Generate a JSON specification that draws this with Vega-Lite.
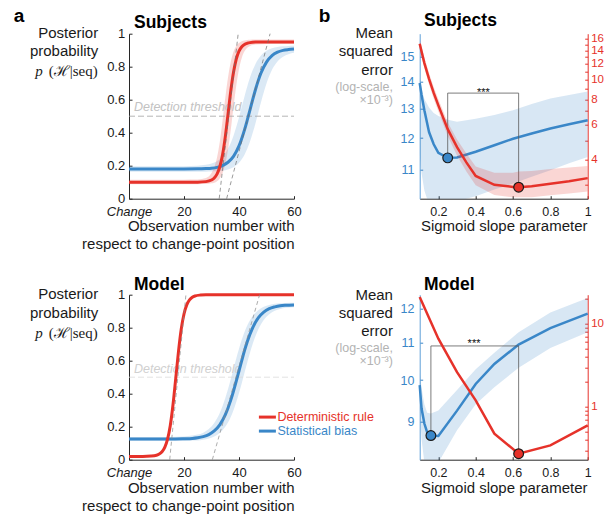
{
  "$schema": "https://vega.github.io/schema/vega-lite/v6.json",
  "padding": {"left": 13, "top": 6.7, "right": 0, "bottom": 0},
  "columns": 2,
  "bounds": "flush",
  "spacing": {"row": 96, "column": 125.7},
  "config": {
    "font": "Liberation Sans",
    "view": {"stroke": null},
    "axis": {"grid": false, "labelFont": "Liberation Sans", "titleFont": "Liberation Sans", "labelFontSize": 13, "titleFontSize": 15, "titleFontWeight": "normal", "labelColor": "#1a1a1a", "titleColor": "#1a1a1a", "domainColor": "#262626", "tickColor": "#262626", "tickSize": -3, "domainWidth": 1, "tickWidth": 1, "labelFlush": false, "labelOverlap": false, "tickCount": 30},
    "text": {"font": "Liberation Sans"}
  },
  "datasets": {
    "tl_red": [
      {"x":0,"y":0.1,"lo":0.088,"hi":0.115},{"x":10,"y":0.1,"lo":0.088,"hi":0.115},{"x":20,"y":0.1,"lo":0.088,"hi":0.115},
      {"x":25,"y":0.1004,"lo":0.088,"hi":0.116},{"x":28,"y":0.1034,"lo":0.089,"hi":0.125},{"x":30,"y":0.113,"lo":0.093,"hi":0.155},
      {"x":31,"y":0.126,"lo":0.097,"hi":0.19},{"x":32,"y":0.149,"lo":0.106,"hi":0.25},{"x":33,"y":0.192,"lo":0.123,"hi":0.344},
      {"x":34,"y":0.264,"lo":0.154,"hi":0.471},{"x":35,"y":0.373,"lo":0.209,"hi":0.61},{"x":36,"y":0.511,"lo":0.296,"hi":0.735},
      {"x":37,"y":0.651,"lo":0.416,"hi":0.829},{"x":38,"y":0.766,"lo":0.555,"hi":0.89},{"x":39,"y":0.846,"lo":0.685,"hi":0.925},
      {"x":40,"y":0.894,"lo":0.786,"hi":0.944},{"x":41,"y":0.921,"lo":0.853,"hi":0.954},{"x":42,"y":0.935,"lo":0.893,"hi":0.959},
      {"x":43,"y":0.942,"lo":0.915,"hi":0.962},{"x":44,"y":0.946,"lo":0.926,"hi":0.963},{"x":46,"y":0.949,"lo":0.935,"hi":0.965},
      {"x":50,"y":0.95,"lo":0.938,"hi":0.965},{"x":55,"y":0.95,"lo":0.938,"hi":0.965},{"x":60,"y":0.95,"lo":0.938,"hi":0.965}
    ],
    "tl_blue": [
      {"x":0,"y":0.18,"lo":0.163,"hi":0.197},{"x":10,"y":0.18,"lo":0.163,"hi":0.197},{"x":20,"y":0.18,"lo":0.163,"hi":0.197},
      {"x":25,"y":0.181,"lo":0.163,"hi":0.2},{"x":28,"y":0.183,"lo":0.164,"hi":0.205},{"x":30,"y":0.185,"lo":0.165,"hi":0.213},
      {"x":32,"y":0.19,"lo":0.166,"hi":0.227},{"x":34,"y":0.201,"lo":0.169,"hi":0.254},{"x":36,"y":0.221,"lo":0.177,"hi":0.303},
      {"x":38,"y":0.257,"lo":0.191,"hi":0.382},{"x":40,"y":0.32,"lo":0.218,"hi":0.494},{"x":42,"y":0.417,"lo":0.267,"hi":0.62},
      {"x":43,"y":0.476,"lo":0.302,"hi":0.68},{"x":44,"y":0.538,"lo":0.346,"hi":0.734},{"x":45,"y":0.602,"lo":0.399,"hi":0.78},
      {"x":46,"y":0.662,"lo":0.458,"hi":0.817},{"x":48,"y":0.762,"lo":0.584,"hi":0.868},{"x":50,"y":0.828,"lo":0.698,"hi":0.897},
      {"x":52,"y":0.867,"lo":0.781,"hi":0.912},{"x":54,"y":0.888,"lo":0.832,"hi":0.92},{"x":56,"y":0.899,"lo":0.861,"hi":0.924},
      {"x":58,"y":0.904,"lo":0.876,"hi":0.926},{"x":60,"y":0.907,"lo":0.884,"hi":0.927}
    ],
    "tl_tan": [
      {"s":"red","x":32.8,"y":0},{"s":"red","x":39.7,"y":1},
      {"s":"blue","x":35.5,"y":0},{"s":"blue","x":51.3,"y":1}
    ],
    "bl_red": [
      {"x":0,"y":0.02},{"x":5,"y":0.02},{"x":8,"y":0.022},{"x":10,"y":0.027},{"x":11,"y":0.034},{"x":12,"y":0.048},
      {"x":13,"y":0.075},{"x":14,"y":0.123},{"x":15,"y":0.206},{"x":16,"y":0.333},{"x":17,"y":0.493},{"x":18,"y":0.657},
      {"x":19,"y":0.792},{"x":20,"y":0.883},{"x":21,"y":0.938},{"x":22,"y":0.968},{"x":23,"y":0.984},{"x":24,"y":0.992},
      {"x":26,"y":0.998},{"x":28,"y":1},{"x":40,"y":1},{"x":60,"y":1}
    ],
    "bl_blue": [
      {"x":0,"y":0.125,"lo":0.113,"hi":0.137},{"x":10,"y":0.125,"lo":0.113,"hi":0.137},{"x":15,"y":0.125,"lo":0.113,"hi":0.138},
      {"x":20,"y":0.127,"lo":0.114,"hi":0.14},{"x":23,"y":0.129,"lo":0.116,"hi":0.146},{"x":25,"y":0.133,"lo":0.117,"hi":0.152},
      {"x":27,"y":0.14,"lo":0.121,"hi":0.164},{"x":29,"y":0.152,"lo":0.128,"hi":0.186},{"x":31,"y":0.174,"lo":0.14,"hi":0.223},
      {"x":33,"y":0.211,"lo":0.162,"hi":0.283},{"x":35,"y":0.271,"lo":0.199,"hi":0.373},{"x":37,"y":0.361,"lo":0.259,"hi":0.488},
      {"x":38,"y":0.416,"lo":0.3,"hi":0.551},{"x":39,"y":0.476,"lo":0.349,"hi":0.613},{"x":40,"y":0.539,"lo":0.404,"hi":0.673},
      {"x":41,"y":0.601,"lo":0.464,"hi":0.727},{"x":42,"y":0.661,"lo":0.527,"hi":0.774},{"x":43,"y":0.715,"lo":0.589,"hi":0.813},
      {"x":45,"y":0.801,"lo":0.703,"hi":0.871},{"x":47,"y":0.859,"lo":0.789,"hi":0.906},{"x":49,"y":0.894,"lo":0.847,"hi":0.927},
      {"x":51,"y":0.915,"lo":0.882,"hi":0.938},{"x":53,"y":0.926,"lo":0.903,"hi":0.945},{"x":55,"y":0.933,"lo":0.914,"hi":0.948},
      {"x":57,"y":0.936,"lo":0.921,"hi":0.95},{"x":60,"y":0.938,"lo":0.924,"hi":0.951}
    ],
    "bl_tan": [
      {"s":"red","x":14.8,"y":0},{"s":"red","x":20.7,"y":1},
      {"s":"blue","x":30.3,"y":0},{"s":"blue","x":47.5,"y":1}
    ],
    "tr_blue": [
      {"x":0.1,"y":13.95,"lo":11.5,"hi":14.15},{"x":0.11,"y":13.5,"lo":10.9,"hi":13.75},{"x":0.125,"y":12.95,"lo":10.4,"hi":13.35},
      {"x":0.15,"y":12.2,"lo":10.0,"hi":13.05},{"x":0.175,"y":11.8,"lo":9.8,"hi":12.85},{"x":0.2,"y":11.53,"lo":9.7,"hi":12.75},
      {"x":0.25,"y":11.37,"lo":9.7,"hi":12.62},{"x":0.3,"y":11.38,"lo":10.1,"hi":12.55},{"x":0.4,"y":11.56,"lo":10.24,"hi":12.65},
      {"x":0.5,"y":11.77,"lo":10.43,"hi":12.78},{"x":0.6,"y":11.98,"lo":10.6,"hi":12.95},{"x":0.7,"y":12.15,"lo":10.8,"hi":13.17},
      {"x":0.8,"y":12.32,"lo":10.99,"hi":13.37},{"x":0.9,"y":12.46,"lo":11.2,"hi":13.5},{"x":1.0,"y":12.6,"lo":11.4,"hi":13.63}
    ],
    "tr_red": [
      {"x":0.1,"y":15.1,"lo":14.3,"hi":16.0},{"x":0.125,"y":12.1,"lo":11.4,"hi":12.9},{"x":0.15,"y":10.1,"lo":9.5,"hi":10.8},
      {"x":0.175,"y":8.6,"lo":8.05,"hi":9.2},{"x":0.2,"y":7.45,"lo":6.95,"hi":8.0},{"x":0.25,"y":5.68,"lo":5.25,"hi":6.15},
      {"x":0.3,"y":4.62,"lo":4.2,"hi":5.05},{"x":0.35,"y":3.88,"lo":3.5,"hi":4.3},{"x":0.4,"y":3.32,"lo":2.99,"hi":3.7},
      {"x":0.5,"y":3.0,"lo":2.67,"hi":3.45},{"x":0.6,"y":2.93,"lo":2.6,"hi":3.45},{"x":0.63,"y":2.92,"lo":2.6,"hi":3.5},
      {"x":0.7,"y":2.95,"lo":2.6,"hi":3.52},{"x":0.8,"y":3.04,"lo":2.66,"hi":3.6},{"x":0.9,"y":3.13,"lo":2.72,"hi":3.66},
      {"x":1.0,"y":3.24,"lo":2.78,"hi":3.72}
    ],
    "tr_bracket": [
      {"o":1,"x":0.25,"y":11.37},{"o":2,"x":0.25,"y":13.57},{"o":3,"x":0.63,"y":13.57},{"o":4,"x":0.63,"y":10.51}
    ],
    "tr_opt_blue": [{"x":0.25,"y":11.37}],
    "tr_opt_red": [{"x":0.63,"y":2.92}],
    "br_blue": [
      {"x":0.1,"y":9.87,"lo":9.3,"hi":10.2},{"x":0.11,"y":9.3,"lo":8.6,"hi":9.8},{"x":0.125,"y":8.95,"lo":8.1,"hi":9.4},
      {"x":0.14,"y":8.75,"lo":7.9,"hi":9.2},{"x":0.16,"y":8.68,"lo":7.9,"hi":9.18},{"x":0.2,"y":8.67,"lo":8.1,"hi":9.25},
      {"x":0.3,"y":9.25,"lo":8.8,"hi":9.75},{"x":0.4,"y":9.9,"lo":9.4,"hi":10.28},{"x":0.5,"y":10.42,"lo":9.82,"hi":10.72},
      {"x":0.63,"y":10.95,"lo":10.32,"hi":11.3},{"x":0.8,"y":11.42,"lo":10.85,"hi":11.88},{"x":1.0,"y":11.85,"lo":11.3,"hi":12.33}
    ],
    "br_red": [
      {"x":0.1,"y":20.9},{"x":0.2,"y":6.6},{"x":0.3,"y":2.62},{"x":0.4,"y":1.2},{"x":0.5,"y":0.479},
      {"x":0.63,"y":0.275},{"x":0.8,"y":0.346},{"x":1.0,"y":0.6}
    ],
    "br_bracket": [
      {"o":1,"x":0.16,"y":8.68},{"o":2,"x":0.16,"y":10.91},{"o":3,"x":0.63,"y":10.91},{"o":4,"x":0.63,"y":8.286}
    ],
    "br_opt_blue": [{"x":0.16,"y":8.68}],
    "br_opt_red": [{"x":0.63,"y":0.275}]
  },
  "concat": [
    {
      "width": 165, "height": 165,
      "layer": [
        {"data": {"name": "tl_blue"}, "mark": {"type": "area", "fill": "#3a87c8", "fillOpacity": 0.18, "interpolate": "monotone", "clip": true},
         "encoding": {
           "x": {"field": "x", "type": "quantitative", "scale": {"domain": [0, 60], "nice": false, "zero": false},
             "axis": {"values": [0, 20, 40, 60], "tickCount": 30, "labelExpr": "datum.value == 0 ? 'Change' : datum.label", "labelOverlap": false,
               "labelFontStyle": {"condition": {"test": "datum.value == 0", "value": "italic"}, "value": "normal"},
               "labelPadding": 9.6, "title": ["Observation number with", "respect to change-point position"], "titleFontWeight": "normal",
               "titleX": 165, "titleY": 31.7, "titleAlign": "right", "titleBaseline": "alphabetic", "titleLineHeight": 18.3}},
           "y": {"field": "lo", "type": "quantitative", "scale": {"domain": [0, 1], "nice": false},
             "axis": {"values": [0, 0.2, 0.4, 0.6, 0.8, 1], "tickCount": 30, "labelExpr": "format(datum.value, '~g')", "labelOverlap": false, "labelBound": false, "labelPadding": 7.3, "title": ["Posterior", "probability"], "titleFontWeight": "normal",
               "titleAngle": 0, "titleAlign": "right", "titleBaseline": "alphabetic", "titleX": -31.3, "titleY": 4, "titleLineHeight": 17.7}},
           "y2": {"field": "hi"}}},
        {"data": {"name": "tl_red"}, "mark": {"type": "area", "fill": "#e6322a", "fillOpacity": 0.2, "interpolate": "monotone", "clip": true},
         "encoding": {"x": {"field": "x", "type": "quantitative"}, "y": {"field": "lo", "type": "quantitative"}, "y2": {"field": "hi"}}},
        {"data": {"values": [{}]}, "mark": {"type": "rule", "stroke": "#a3a3a3", "strokeWidth": 0.8, "strokeDash": [6, 3]},
         "encoding": {"x": {"datum": 0}, "x2": {"datum": 60}, "y": {"datum": 0.5}}},
        {"data": {"values": [{}]}, "mark": {"type": "text", "text": "Detection threshold", "fontSize": 12.5, "fontStyle": "italic", "fill": "#c2c2c2", "align": "left", "baseline": "alphabetic"},
         "encoding": {"x": {"datum": 1.8}, "y": {"datum": 0.53}}},
        {"data": {"name": "tl_blue"}, "mark": {"type": "line", "stroke": "#3a87c8", "strokeWidth": 3, "interpolate": "monotone"},
         "encoding": {"x": {"field": "x", "type": "quantitative"}, "y": {"field": "y", "type": "quantitative"}}},
        {"data": {"name": "tl_red"}, "mark": {"type": "line", "stroke": "#e6322a", "strokeWidth": 3, "interpolate": "monotone"},
         "encoding": {"x": {"field": "x", "type": "quantitative"}, "y": {"field": "y", "type": "quantitative"}}},
        {"data": {"name": "tl_tan"}, "mark": {"type": "line", "stroke": "#6e6e6e", "strokeWidth": 0.7, "strokeDash": [4, 3]},
         "encoding": {"x": {"field": "x", "type": "quantitative"}, "y": {"field": "y", "type": "quantitative"}, "detail": {"field": "s", "type": "nominal"}}},
        {"data": {"values": [{}]}, "mark": {"type": "text", "text": "a", "fontSize": 19, "fontWeight": "bold", "fill": "#000", "align": "left", "baseline": "alphabetic"},
         "encoding": {"x": {"datum": -41.9}, "y": {"datum": 1.07}}},
        {"data": {"values": [{}]}, "mark": {"type": "text", "text": "Subjects", "fontSize": 17.5, "fontWeight": "bold", "fill": "#000", "align": "left", "baseline": "alphabetic"},
         "encoding": {"x": {"datum": 1.82}, "y": {"datum": 1.036}}},
        {"data": {"values": [{}]}, "mark": {"type": "text", "text": "p", "font": "Liberation Serif", "fontSize": 15, "fontStyle": "italic", "fill": "#1a1a1a", "align": "right", "baseline": "alphabetic"},
         "encoding": {"x": {"datum": -31.4}, "y": {"datum": 0.741}}},
        {"data": {"values": [{}]}, "mark": {"type": "text", "text": "(ℋ|seq)", "font": "Liberation Serif", "fontSize": 15, "fill": "#1a1a1a", "align": "right", "baseline": "alphabetic"},
         "encoding": {"x": {"datum": -11.38}, "y": {"datum": 0.741}}}
      ]
    },
    {
      "width": 168, "height": 165,
      "layer": [
        {"layer": [
          {"data": {"name": "tr_blue"}, "mark": {"type": "area", "fill": "#3a87c8", "fillOpacity": 0.2, "clip": true},
           "encoding": {
             "x": {"field": "x", "type": "quantitative", "scale": {"domain": [0.1, 1], "nice": false, "zero": false},
               "axis": {"values": [0.2, 0.4, 0.6, 0.8, 1], "tickCount": 30, "format": "~g", "labelOverlap": false, "labelFontSize": 12.5, "labelPadding": 9.6, "title": "Sigmoid slope parameter", "titleFontWeight": "normal",
                 "titleX": 84, "titleY": 31.7, "titleAlign": "center", "titleBaseline": "alphabetic"}},
             "y": {"field": "lo", "type": "quantitative", "scale": {"type": "log", "domain": [10.17, 15.96], "nice": false},
               "axis": {"orient": "left", "values": [11, 12, 13, 14, 15], "tickCount": 30, "labelExpr": "'' + datum.value", "labelOverlap": false, "labelFontSize": 12.5, "labelColor": "#3a87c8", "domainColor": "#5d9fd8", "tickColor": "#3a87c8",
                 "labelPadding": 8.7, "title": ["Mean", "squared", "error"], "titleFontWeight": "normal", "titleAngle": 0, "titleAlign": "right", "titleBaseline": "alphabetic",
                 "titleX": -27.3, "titleY": 4, "titleLineHeight": 18.3}},
             "y2": {"field": "hi"}}},
          {"data": {"name": "tr_blue"}, "mark": {"type": "line", "stroke": "#3a87c8", "strokeWidth": 2.5},
           "encoding": {"x": {"field": "x", "type": "quantitative"}, "y": {"field": "y", "type": "quantitative"}}},
          {"data": {"name": "tr_bracket"}, "mark": {"type": "line", "stroke": "#5a5a5a", "strokeWidth": 0.8},
           "encoding": {"x": {"field": "x", "type": "quantitative"}, "y": {"field": "y", "type": "quantitative"}, "order": {"field": "o"}}},
          {"data": {"values": [{}]}, "mark": {"type": "text", "text": "***", "fontSize": 11, "fill": "#111", "align": "center", "baseline": "alphabetic"},
           "encoding": {"x": {"datum": 0.441}, "y": {"datum": 13.46}}},
          {"data": {"name": "tr_opt_blue"}, "mark": {"type": "point", "filled": true, "fill": "#3a87c8", "stroke": "#1a1a1a", "strokeWidth": 1.2, "size": 95, "opacity": 1},
           "encoding": {"x": {"field": "x", "type": "quantitative"}, "y": {"field": "y", "type": "quantitative"}}},
          {"data": {"values": [{}]}, "mark": {"type": "text", "text": "b", "fontSize": 19, "fontWeight": "bold", "fill": "#000", "align": "left", "baseline": "alphabetic"},
           "encoding": {"x": {"datum": -0.441}, "y": {"datum": 16.47}}},
          {"data": {"values": [{}]}, "mark": {"type": "text", "text": "Subjects", "fontSize": 17.5, "fontWeight": "bold", "fill": "#000", "align": "left", "baseline": "alphabetic"},
           "encoding": {"x": {"datum": 0.123}, "y": {"datum": 16.28}}}
        ]},
        {"layer": [
          {"data": {"name": "tr_red"}, "mark": {"type": "area", "fill": "#e6322a", "fillOpacity": 0.2, "clip": true},
           "encoding": {
             "x": {"field": "x", "type": "quantitative"},
             "y": {"field": "lo", "type": "quantitative", "scale": {"type": "log", "domain": [2.56, 16.94], "nice": false},
               "axis": {"orient": "right", "values": [3, 4, 5, 6, 7, 8, 9, 10, 11, 12, 13, 14, 15, 16], "tickCount": 30, "labelOverlap": false,
                 "labelExpr": "datum.value >= 4 && datum.value % 2 == 0 ? '' + datum.value : ''", "labelFontSize": 11.5,
                 "labelColor": "#e6322a", "domainColor": "#e6322a", "tickColor": "#e6322a", "labelPadding": 6,
                 "title": ["(log-scale,", "×10⁻³)"], "titleFontWeight": "normal", "titleAngle": 0, "titleAlign": "right", "titleBaseline": "alphabetic",
                 "titleX": -195.3, "titleY": 56.7, "titleLineHeight": 12.7, "titleFontSize": 12.5, "titleColor": "#b3b3b3"}},
             "y2": {"field": "hi"}}},
          {"data": {"name": "tr_red"}, "mark": {"type": "line", "stroke": "#e6322a", "strokeWidth": 2.5},
           "encoding": {"x": {"field": "x", "type": "quantitative"}, "y": {"field": "y", "type": "quantitative"}}},
          {"data": {"name": "tr_opt_red"}, "mark": {"type": "point", "filled": true, "fill": "#e6322a", "stroke": "#1a1a1a", "strokeWidth": 1.2, "size": 95, "opacity": 1},
           "encoding": {"x": {"field": "x", "type": "quantitative"}, "y": {"field": "y", "type": "quantitative"}}}
        ]}
      ],
      "resolve": {"scale": {"y": "independent"}, "axis": {"y": "independent"}}
    },
    {
      "width": 165, "height": 165,
      "layer": [
        {"data": {"name": "bl_blue"}, "mark": {"type": "area", "fill": "#3a87c8", "fillOpacity": 0.18, "interpolate": "monotone", "clip": true},
         "encoding": {
           "x": {"field": "x", "type": "quantitative", "scale": {"domain": [0, 60], "nice": false, "zero": false},
             "axis": {"values": [0, 20, 40, 60], "tickCount": 30, "labelExpr": "datum.value == 0 ? 'Change' : datum.label", "labelOverlap": false,
               "labelFontStyle": {"condition": {"test": "datum.value == 0", "value": "italic"}, "value": "normal"},
               "labelPadding": 9.6, "title": ["Observation number with", "respect to change-point position"], "titleFontWeight": "normal",
               "titleX": 165, "titleY": 32.4, "titleAlign": "right", "titleBaseline": "alphabetic", "titleLineHeight": 18.3}},
           "y": {"field": "lo", "type": "quantitative", "scale": {"domain": [0, 1], "nice": false},
             "axis": {"values": [0, 0.2, 0.4, 0.6, 0.8, 1], "tickCount": 30, "labelExpr": "format(datum.value, '~g')", "labelOverlap": false, "labelBound": false, "labelPadding": 7.3, "title": ["Posterior", "probability"], "titleFontWeight": "normal",
               "titleAngle": 0, "titleAlign": "right", "titleBaseline": "alphabetic", "titleX": -31.3, "titleY": 4, "titleLineHeight": 18.5}},
           "y2": {"field": "hi"}}},
        {"data": {"values": [{}]}, "mark": {"type": "rule", "stroke": "#dcdcdc", "strokeWidth": 0.8, "strokeDash": [6, 3]},
         "encoding": {"x": {"datum": 0}, "x2": {"datum": 60}, "y": {"datum": 0.5}}},
        {"data": {"values": [{}]}, "mark": {"type": "text", "text": "Detection threshold", "fontSize": 12.5, "fontStyle": "italic", "fill": "#d0d0d0", "align": "left", "baseline": "alphabetic"},
         "encoding": {"x": {"datum": 1.8}, "y": {"datum": 0.527}}},
        {"data": {"name": "bl_blue"}, "mark": {"type": "line", "strokeWidth": 3, "interpolate": "monotone"},
         "encoding": {"x": {"field": "x", "type": "quantitative"}, "y": {"field": "y", "type": "quantitative"},
           "stroke": {"datum": "Statistical bias", "scale": {"range": ["#3a87c8"]},
             "legend": {"orient": "none", "legendX": 128.4, "legendY": 387.4, "title": null, "symbolType": "stroke", "symbolSize": 289, "symbolStrokeWidth": 3,
               "labelFontSize": 12.5, "labelFont": "Liberation Sans", "labelColor": "#3a87c8", "labelOffset": 0, "padding": 0}}}},
        {"data": {"name": "bl_red"}, "mark": {"type": "line", "strokeWidth": 3, "interpolate": "monotone"},
         "encoding": {"x": {"field": "x", "type": "quantitative"}, "y": {"field": "y", "type": "quantitative"},
           "color": {"datum": "Deterministic rule", "scale": {"range": ["#e6322a"]},
             "legend": {"orient": "none", "legendX": 128.4, "legendY": 373.4, "title": null, "symbolType": "stroke", "symbolSize": 289, "symbolStrokeWidth": 3,
               "labelFontSize": 12.5, "labelFont": "Liberation Sans", "labelColor": "#e6322a", "labelOffset": 0, "padding": 0}}}},
        {"data": {"name": "bl_tan"}, "mark": {"type": "line", "stroke": "#8a8a8a", "strokeWidth": 0.7, "strokeDash": [4, 3]},
         "encoding": {"x": {"field": "x", "type": "quantitative"}, "y": {"field": "y", "type": "quantitative"}, "detail": {"field": "s", "type": "nominal"}}},
        {"data": {"values": [{}]}, "mark": {"type": "text", "text": "Model", "fontSize": 17.5, "fontWeight": "bold", "fill": "#000", "align": "left", "baseline": "alphabetic"},
         "encoding": {"x": {"datum": 1.82}, "y": {"datum": 1.03}}},
        {"data": {"values": [{}]}, "mark": {"type": "text", "text": "p", "font": "Liberation Serif", "fontSize": 15, "fontStyle": "italic", "fill": "#1a1a1a", "align": "right", "baseline": "alphabetic"},
         "encoding": {"x": {"datum": -31.4}, "y": {"datum": 0.737}}},
        {"data": {"values": [{}]}, "mark": {"type": "text", "text": "(ℋ|seq)", "font": "Liberation Serif", "fontSize": 15, "fill": "#1a1a1a", "align": "right", "baseline": "alphabetic"},
         "encoding": {"x": {"datum": -11.38}, "y": {"datum": 0.737}}}
      ]
    },
    {
      "width": 168, "height": 165,
      "layer": [
        {"layer": [
          {"data": {"name": "br_blue"}, "mark": {"type": "area", "fill": "#3a87c8", "fillOpacity": 0.2, "clip": true},
           "encoding": {
             "x": {"field": "x", "type": "quantitative", "scale": {"domain": [0.1, 1], "nice": false, "zero": false},
               "axis": {"values": [0.2, 0.4, 0.6, 0.8, 1], "tickCount": 30, "format": "~g", "labelOverlap": false, "labelFontSize": 12.5, "labelPadding": 9.6, "title": "Sigmoid slope parameter", "titleFontWeight": "normal",
                 "titleX": 84, "titleY": 32.4, "titleAlign": "center", "titleBaseline": "alphabetic"}},
             "y": {"field": "lo", "type": "quantitative", "scale": {"type": "log", "domain": [8.161, 12.435], "nice": false},
               "axis": {"orient": "left", "values": [9, 10, 11, 12], "tickCount": 30, "labelExpr": "'' + datum.value", "labelOverlap": false, "labelFontSize": 12.5, "labelColor": "#3a87c8", "domainColor": "#5d9fd8", "tickColor": "#3a87c8",
                 "labelPadding": 8.7, "title": ["Mean", "squared", "error"], "titleFontWeight": "normal", "titleAngle": 0, "titleAlign": "right", "titleBaseline": "alphabetic",
                 "titleX": -27.3, "titleY": 4.7, "titleLineHeight": 18.3}},
             "y2": {"field": "hi"}}},
          {"data": {"name": "br_blue"}, "mark": {"type": "line", "stroke": "#3a87c8", "strokeWidth": 2.5},
           "encoding": {"x": {"field": "x", "type": "quantitative"}, "y": {"field": "y", "type": "quantitative"}}},
          {"data": {"name": "br_bracket"}, "mark": {"type": "line", "stroke": "#5a5a5a", "strokeWidth": 0.8},
           "encoding": {"x": {"field": "x", "type": "quantitative"}, "y": {"field": "y", "type": "quantitative"}, "order": {"field": "o"}}},
          {"data": {"values": [{}]}, "mark": {"type": "text", "text": "***", "fontSize": 11, "fill": "#111", "align": "center", "baseline": "alphabetic"},
           "encoding": {"x": {"datum": 0.391}, "y": {"datum": 10.88}}},
          {"data": {"name": "br_opt_blue"}, "mark": {"type": "point", "filled": true, "fill": "#3a87c8", "stroke": "#1a1a1a", "strokeWidth": 1.2, "size": 95, "opacity": 1},
           "encoding": {"x": {"field": "x", "type": "quantitative"}, "y": {"field": "y", "type": "quantitative"}}},
          {"data": {"values": [{}]}, "mark": {"type": "text", "text": "Model", "fontSize": 17.5, "fontWeight": "bold", "fill": "#000", "align": "left", "baseline": "alphabetic"},
           "encoding": {"x": {"datum": 0.123}, "y": {"datum": 12.596}}}
        ]},
        {"layer": [
          {"data": {"name": "br_red"}, "mark": {"type": "line", "stroke": "#e6322a", "strokeWidth": 2.5},
           "encoding": {
             "x": {"field": "x", "type": "quantitative"},
             "y": {"field": "y", "type": "quantitative", "scale": {"type": "log", "domain": [0.233, 22.29], "nice": false},
               "axis": {"orient": "right", "values": [0.3, 0.4, 0.5, 0.6, 0.7, 0.8, 0.9, 1, 2, 3, 4, 5, 6, 7, 8, 9, 10, 20], "tickCount": 30, "labelOverlap": false,
                 "labelExpr": "datum.value == 1 || datum.value == 10 ? '' + datum.value : ''", "labelFontSize": 11.5,
                 "labelColor": "#e6322a", "domainColor": "#e6322a", "tickColor": "#e6322a", "labelPadding": 6,
                 "title": ["(log-scale,", "×10⁻³)"], "titleFontWeight": "normal", "titleAngle": 0, "titleAlign": "right", "titleBaseline": "alphabetic",
                 "titleX": -195.3, "titleY": 56.7, "titleLineHeight": 12.7, "titleFontSize": 12.5, "titleColor": "#b3b3b3"}}}},
          {"data": {"name": "br_opt_red"}, "mark": {"type": "point", "filled": true, "fill": "#e6322a", "stroke": "#1a1a1a", "strokeWidth": 1.2, "size": 95, "opacity": 1},
           "encoding": {"x": {"field": "x", "type": "quantitative"}, "y": {"field": "y", "type": "quantitative"}}}
        ]}
      ],
      "resolve": {"scale": {"y": "independent"}, "axis": {"y": "independent"}}
    }
  ]
}
